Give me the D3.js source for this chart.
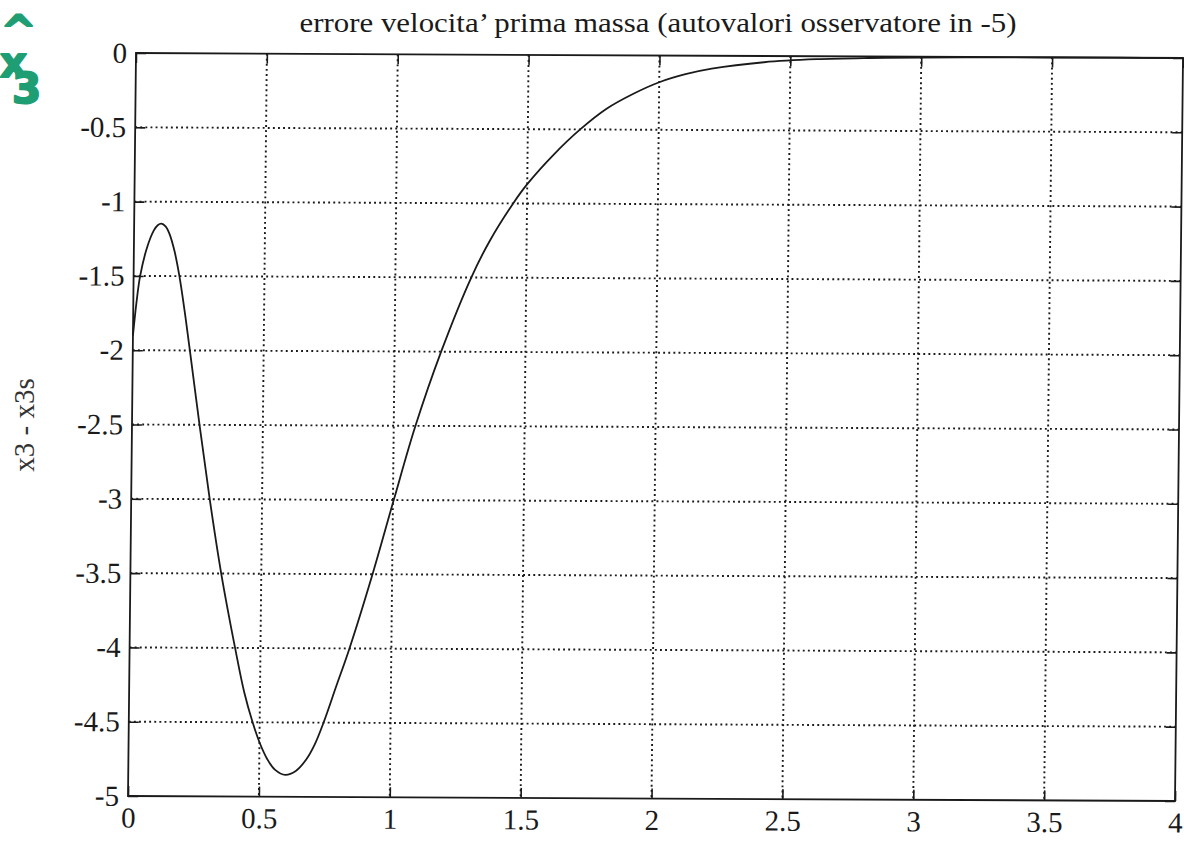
<!DOCTYPE html>
<html>
<head>
<meta charset="utf-8">
<script src="https://cdn.jsdelivr.net/npm/d3@7"></script>
<style>
  html, body { margin: 0; padding: 0; background: #fff; }
  svg { display: block; }
</style>
</head>
<body>
<svg id="chart" width="1184" height="841"></svg>
<script>
// ---- data ----
const titleText = "errore velocita\u2019 prima massa (autovalori osservatore in -5)";
const yLabelText = "x3 - x3s";
const noteText = "^x3";
const xTicks = [0, 0.5, 1, 1.5, 2, 2.5, 3, 3.5, 4];
const xTickLabels = ["0", "0.5", "1", "1.5", "2", "2.5", "3", "3.5", "4"];
const yTicks = [0, -0.5, -1, -1.5, -2, -2.5, -3, -3.5, -4, -4.5, -5];
const yTickLabels = ["0", "-0.5", "-1", "-1.5", "-2", "-2.5", "-3", "-3.5", "-4", "-4.5", "-5"];
const timeValues = [0, 0.012, 0.025, 0.05, 0.075, 0.09, 0.104, 0.12, 0.135, 0.155, 0.175, 0.196, 0.218,
  0.258, 0.300, 0.347, 0.403, 0.44, 0.473, 0.50, 0.53, 0.56, 0.60, 0.64, 0.68, 0.71, 0.744,
  0.79, 0.84, 0.925, 1.003, 1.083, 1.178, 1.29, 1.36, 1.447, 1.5, 1.6, 1.7, 1.8, 1.9, 2.0,
  2.1, 2.2, 2.4, 2.6, 2.8, 3.0, 3.25, 3.5, 3.75, 4.0];
const errorValues = [-1.90, -1.68, -1.50, -1.31, -1.195, -1.158, -1.147, -1.165, -1.214, -1.33, -1.50, -1.73, -2.0,
  -2.5, -3.0, -3.5, -4.0, -4.30, -4.5, -4.634, -4.746, -4.818, -4.853, -4.826, -4.747, -4.652, -4.5,
  -4.26, -4.0, -3.5, -3.0, -2.5, -2.0, -1.5, -1.25, -1.0, -0.87, -0.67, -0.5, -0.36, -0.26, -0.18,
  -0.125, -0.087, -0.042, -0.02, -0.01, -0.005, -0.002, -0.001, 0, 0];

// ---- layout ----
const W = 1047, H = 743;
const svg = d3.select("#chart");
const font = "'Liberation Serif', 'Times New Roman', serif";
const ink = "#1a1a1a";

const x = d3.scaleLinear().domain([0, 4]).range([0, W]);
const y = d3.scaleLinear().domain([-5, 0]).range([H, 0]);

// scanned page is slightly skewed
const g = svg.append("g")
  .attr("transform", `matrix(1, ${5 / 1047}, ${-8 / 743}, 1, 136, 53)`);

// grid
const grid = g.append("g").attr("stroke", ink).attr("stroke-width", 1.9)
  .attr("stroke-dasharray", "1.9,3.2").attr("fill", "none");
grid.selectAll("line.v").data(xTicks.slice(1, -1)).join("line")
  .attr("class", "v").attr("x1", d => x(d)).attr("x2", d => x(d))
  .attr("y1", 0).attr("y2", H);
grid.selectAll("line.h").data(yTicks.slice(1, -1)).join("line")
  .attr("class", "h").attr("y1", d => y(d)).attr("y2", d => y(d))
  .attr("x1", 0).attr("x2", W);

// axes
const fmtX = d => xTickLabels[xTicks.indexOf(d)];
const fmtY = d => yTickLabels[yTicks.indexOf(d)];

const axBottom = g.append("g").attr("transform", `translate(0,${H})`)
  .call(d3.axisBottom(x).tickValues(xTicks).tickFormat(fmtX).tickSizeInner(-10).tickSizeOuter(0).tickPadding(11));
const axLeft = g.append("g")
  .call(d3.axisLeft(y).tickValues(yTicks).tickFormat(fmtY).tickSizeInner(-10).tickSizeOuter(0).tickPadding(9));
const axTop = g.append("g")
  .call(d3.axisTop(x).tickValues(xTicks).tickFormat("").tickSizeInner(-10).tickSizeOuter(0));
const axRight = g.append("g").attr("transform", `translate(${W},0)`)
  .call(d3.axisRight(y).tickValues(yTicks).tickFormat("").tickSizeInner(-10).tickSizeOuter(0));

[axBottom, axLeft, axTop, axRight].forEach(a => {
  a.select(".domain").remove();
  a.selectAll(".tick line").attr("stroke", ink).attr("stroke-width", 1.6);
  a.selectAll(".tick text").attr("fill", ink).attr("font-family", font).attr("font-size", 29);
});

// frame
g.append("rect").attr("x", 0).attr("y", 0).attr("width", W).attr("height", H)
  .attr("fill", "none").attr("stroke", ink).attr("stroke-width", 1.8);

// curve
const pts = timeValues.map((t, i) => [t, errorValues[i]]);
g.append("path").datum(pts)
  .attr("fill", "none").attr("stroke", ink).attr("stroke-width", 1.8)
  .attr("stroke-linejoin", "round")
  .attr("d", d3.line().x(d => x(d[0])).y(d => y(d[1])).curve(d3.curveCatmullRom.alpha(0.5)));

// title
svg.append("text").attr("x", 658).attr("y", 32).attr("text-anchor", "middle")
  .attr("font-family", font).attr("font-size", 27).attr("fill", ink)
  .attr("textLength", 717).attr("lengthAdjust", "spacingAndGlyphs")
  .text(titleText);

// y label
svg.append("text").attr("transform", "translate(34,425) rotate(-90)")
  .attr("text-anchor", "middle").attr("font-family", font).attr("font-size", 29)
  .attr("fill", "#333").text(yLabelText);

// handwritten green annotation (x-hat 3), one text with per-glyph positions
svg.append("text").attr("fill", "#1f9e74").attr("stroke", "#1f9e74")
  .attr("stroke-width", 2).attr("stroke-linejoin", "round")
  .attr("font-family", "'DejaVu Sans', sans-serif").attr("font-weight", "bold")
  .attr("font-size", 42)
  .attr("x", "1 0 12").attr("y", "46 77 103")
  .text(noteText);
</script>
</body>
</html>
